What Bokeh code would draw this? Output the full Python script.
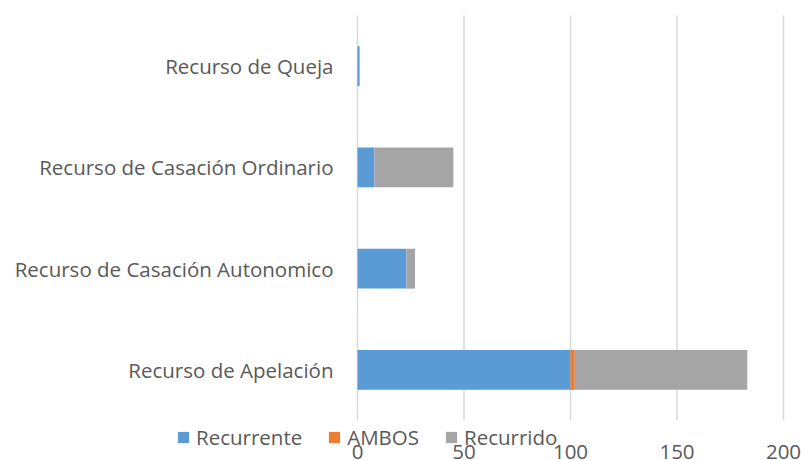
from bokeh.plotting import figure
from bokeh.models import Range1d, Legend, LegendItem, ColumnDataSource
from bokeh.core.properties import value
from bokeh.embed import file_html
from bokeh.resources import INLINE

categories = ["Recurso de Apelación", "Recurso de Casación Autonomico",
              "Recurso de Casación Ordinario", "Recurso de Queja"]
recurrente = [100, 23, 8, 1]
ambos = [2, 0, 0, 0]
recurrido = [81, 4, 37, 0]
series = ["Recurrente", "AMBOS", "Recurrido"]
colors = ["#5b9bd5", "#ed7d31", "#a5a5a5"]
x_ticks = [0, 50, 100, 150, 200]

FONT = value("Open Sans")
FS = value("20.5px")
TXT = "#595959"

W, H = 802, 460
# plot-area geometry (pixels)
PL, PR, PT, PB = 357, 783, 15, 420
xmax = x_ticks[-1]
pxu = (PR - PL) / xmax
n = len(categories)
pyu = (PB - PT) / n

x_range = Range1d(-PL / pxu, xmax + (W - PR) / pxu)
y_range = Range1d(-(H - PB) / pyu, n + PT / pyu)

p = figure(width=W, height=H, x_range=x_range, y_range=y_range,
           output_backend="svg", toolbar_location=None,
           x_axis_location=None, y_axis_location=None,
           min_border=0, min_border_left=0, min_border_right=0,
           min_border_top=0, min_border_bottom=0)
p.grid.visible = False
p.outline_line_color = None

# gridlines
p.segment(x0=x_ticks, x1=x_ticks, y0=[0] * len(x_ticks), y1=[n] * len(x_ticks),
          line_color="#d9d9d9", line_width=1.5)

ypos = [i + 0.5 for i in range(n)]
data = ColumnDataSource({"y": ypos, "Recurrente": recurrente, "AMBOS": ambos,
                         "Recurrido": recurrido})
rs = p.hbar_stack(series, y="y", height=0.395, color=colors, source=data, line_color=None)

# category labels
p.text(x=[0] * n, y=ypos, text=categories, x_offset=-24, text_align="right",
       text_baseline="middle", text_font=FONT, text_font_size=FS, text_color=TXT)

# x tick labels
p.text(x=x_ticks, y=[0] * len(x_ticks), text=[str(t) for t in x_ticks], y_offset=31,
       text_align="center", text_baseline="middle", text_font=FONT,
       text_font_size=FS, text_color=TXT)

items = [LegendItem(label=s, renderers=[r]) for s, r in zip(series, rs)]
legend = Legend(items=items, orientation="horizontal", location=(176, H - 451),
                glyph_width=14, glyph_height=14, label_standoff=6, spacing=25,
                label_height=14, padding=0, margin=0, border_line_color=None,
                background_fill_alpha=0,
                label_text_font="Open Sans", label_text_font_size="20.5px",
                label_text_color=TXT)
p.add_layout(legend, "center")

open("out.html", "w").write(file_html(p, INLINE))
